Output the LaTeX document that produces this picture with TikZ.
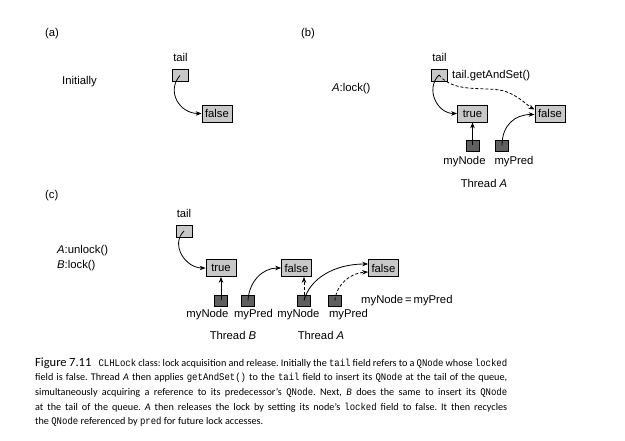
\documentclass[tikz,border=0pt]{standalone}
\usepackage{fontspec}
\setmainfont{Liberation Sans}
\newfontfamily\capfont{Carlito}
\newfontfamily\capmono[FakeStretch=0.88]{Liberation Mono}
\usetikzlibrary{arrows.meta,calc}
\definecolor{boxgray}{RGB}{200,200,200}
\definecolor{sqgray}{RGB}{95,95,95}
\newcommand{\cc}[1]{{\capmono #1}}
\frenchspacing
\tikzset{
 lbl/.style={font=\fontsize{11.3}{13}\selectfont, inner sep=0pt},
 cell/.style={draw=black, line width=0.7pt, fill=boxgray, minimum width=30pt, minimum height=17pt, inner sep=0pt, font=\fontsize{11.3}{13}\selectfont},
 tailbox/.style={draw=black, line width=0.7pt, fill=boxgray, minimum width=16pt, minimum height=12pt, inner sep=0pt},
 ptr/.style={draw=black, line width=0.7pt, fill=sqgray, minimum width=13pt, minimum height=11pt, inner sep=0pt},
 arr/.style={-{Stealth[length=6pt,width=4.5pt]}, line width=0.8pt},
 darr/.style={arr, dash pattern=on 3pt off 2pt},
 capline/.style={anchor=base west, inner sep=0pt, font=\capfont\fontsize{10.2}{12}\selectfont},
}
\begin{document}
\begin{tikzpicture}[x=1pt,y=-1pt]
\useasboundingbox (0,0) rectangle (625,441);
\fill[white] (0,0) rectangle (625,441);

% ---------- (a)
\node[lbl, anchor=west] (la) at (45,34) {(a)};
\node[lbl, anchor=west] (ini) at (62,82) {Initially};
\node[lbl] (taila) at (180.5,57) {tail};
\node[tailbox] (ta) at (180,75.5) {};
\node[cell] (fa) at (217,113.5) {false};
\draw[arr] (ta.center) .. controls +(-14,16) and +(-22,0) .. (fa.west);

% ---------- (b)
\node[lbl, anchor=west] (lb) at (301,34) {(b)};
\node[lbl, anchor=west] (alock) at (332,89) {\textit{A}:lock()};
\node[lbl] (tailb) at (439.5,57) {tail};
\node[tailbox] (tb) at (439,75) {};
\node[lbl, anchor=west] (gas) at (452,76) {tail.getAndSet()};
\node[cell] (trb) at (472.5,113.5) {true};
\node[cell] (fb) at (550,113.5) {false};
\node[ptr] (mnb) at (472.5,145.5) {};
\node[ptr] (mpb) at (502,145.5) {};
\node[lbl] (mnbl) at (464.5,162) {myNode};
\node[lbl] (mpbl) at (514,162) {myPred};
\node[lbl] (tab) at (484,183) {Thread \textit{A}};
\coordinate (fbd) at ($(fb.west)+(0,-4)$);
\draw[arr] (tb.center) .. controls +(-14,14) and +(-20,0) .. (trb.west);
\draw[darr] (tb.center) .. controls (455,95) and (490,85) .. (507,92) .. controls (520,97) and (528,106) .. (fbd);
\draw[arr] (mnb.center) -- (trb.south);
\coordinate (fbs) at ($(fb.west)+(0,1)$);
\draw[arr] (mpb.center) .. controls (502,125) and (515,114.5) .. (fbs);

% ---------- (c)
\node[lbl, anchor=west] (lc) at (45,196) {(c)};
\node[lbl, anchor=west] (aun) at (57,251) {\textit{A}:unlock()};
\node[lbl, anchor=west] (blk) at (57,266) {\textit{B}:lock()};
\node[lbl] (tailc) at (184,213) {tail};
\node[tailbox] (tc) at (184,231) {};
\node[cell] (trc) at (221,268) {true};
\node[cell] (f1c) at (296.5,268) {false};
\node[cell] (f2c) at (383.5,268) {false};
\node[ptr] (mnB) at (221,300.5) {};
\node[ptr] (mpB) at (248,300.5) {};
\node[ptr] (mnA) at (304,300.5) {};
\node[ptr] (mpA) at (335,300.5) {};
\node[lbl] (mnBl) at (207.5,315) {myNode};
\node[lbl] (mpBl) at (253.5,315) {myPred};
\node[lbl] (mnAl) at (298.5,315) {myNode};
\node[lbl] (mpAl) at (348.5,315) {myPred};
\node[lbl] (thB) at (233,335) {Thread \textit{B}};
\node[lbl] (thA) at (321,335) {Thread \textit{A}};
\node[lbl, anchor=west] (eq) at (361,301) {myNode\,=\,myPred};
\draw[arr] (tc.center) .. controls +(-14,14) and +(-20,0) .. (trc.west);
\draw[arr] (mnB.center) -- (trc.south);
\draw[arr] (mpB.center) .. controls (249,282) and (262,268) .. (f1c.west);
\draw[darr] (mnA.center) -- (mnA.center |- f1c.south);
\coordinate (f2u) at ($(f2c.west)+(0,-4)$);
\coordinate (f2d) at ($(f2c.west)+(0,4)$);
\draw[arr] (mnA.center) .. controls (310,278) and (335,264) .. (f2u);
\draw[darr] (mpA.center) .. controls (336,285) and (350,273) .. (f2d);

% ---------- caption
\node[capline] (c1) at (35,366.5) {\makebox[472pt][s]{{\fontsize{12.5}{12}\selectfont Figure 7.11}\hspace{5pt} \cc{CLHLock} class: lock acquisition and release. Initially the \cc{tail} field refers to a \cc{QNode} whose \cc{locked}}};
\node[capline] (c2) at (35,381) {\makebox[472pt][s]{field is false. Thread \textit{A} then applies \cc{getAndSet()} to the \cc{tail} field to insert its \cc{QNode} at the tail of the queue,}};
\node[capline] (c3) at (35,395.5) {\makebox[472pt][s]{simultaneously acquiring a reference to its predecessor’s \cc{QNode}. Next, \textit{B} does the same to insert its \cc{QNode}}};
\node[capline] (c4) at (35,410) {\makebox[472pt][s]{at the tail of the queue. \textit{A} then releases the lock by setting its node’s \cc{locked} field to false. It then recycles}};
\node[capline] (c5) at (35,424.5) {the \cc{QNode} referenced by \cc{pred} for future lock accesses.};
\end{tikzpicture}
\end{document}
